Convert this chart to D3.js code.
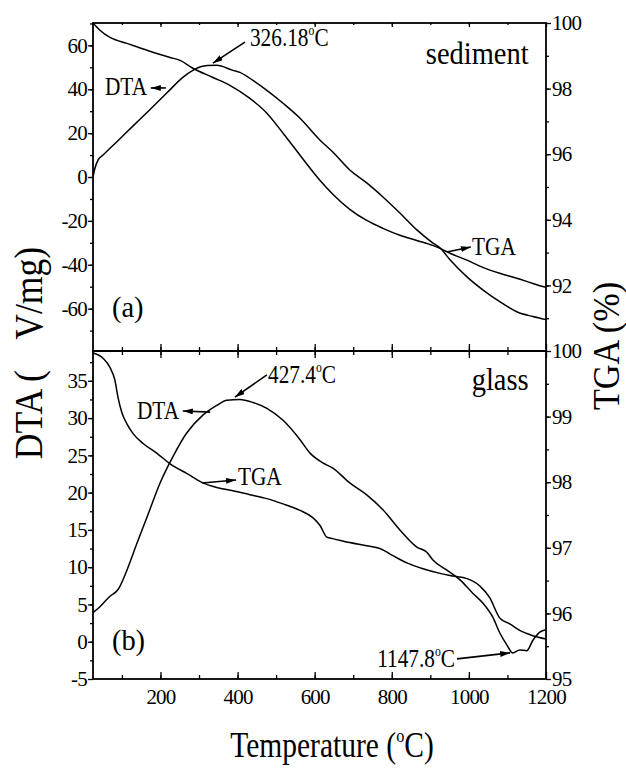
<!DOCTYPE html>
<html>
<head>
<meta charset="utf-8">
<script src="https://cdn.jsdelivr.net/npm/d3@7"></script>
<style>
body{margin:0;background:#fff;}
text{font-family:"Liberation Serif","Times New Roman",serif;fill:#000;}
</style>
</head>
<body>
<div id="chart"></div>
<script>
// (a) sediment - DTA (uV/mg) and TGA (%) vs temperature (C)
var tSedDTA = [25,30,38,51,87,129,173,217,258,284,321,346,388,406,440,476,518,562,614,647,691,735,777,821,865,906,925,951,995,1036,1080,1124,1166,1200];
var sedDTA  = [0,4,7.7,10,16.1,23.3,30.8,38.4,45.4,48.6,50.8,50.9,48.6,47.7,44,39.5,33.6,26.8,16.8,11.4,3.2,-2.7,-9.1,-16.4,-24.1,-30,-32.3,-37.7,-45.5,-51.4,-56.8,-61.4,-63.6,-65];
var tSedTGA = [25,43,69,113,165,225,251,284,336,380,432,476,518,562,614,647,691,735,777,821,865,906,925,951,995,1036,1080,1124,1166,1200];
var sedTGA  = [100,99.78,99.56,99.38,99.17,98.95,98.86,98.62,98.34,98.1,97.7,97.25,96.64,95.97,95.2,94.78,94.32,93.98,93.74,93.53,93.37,93.22,93.13,92.98,92.77,92.55,92.37,92.22,92.06,91.94];

// (b) glass
var tGlaDTA = [25,43,69,90,113,139,165,199,232,268,310,346,372,406,440,476,518,562,588,621,647,691,735,777,821,865,891,906,943,977,1010,1036,1062,1080,1098,1114,1132,1150,1166,1184,1200];
var glaDTA  = [3.9,4.7,6.1,7.0,9.6,13.2,16.7,21.3,24.8,28.0,30.4,31.7,32.4,32.5,32.1,31.3,29.7,27.1,25.3,24.0,23.3,21.3,19.7,17.7,15.0,12.7,12.0,11.0,9.6,8.3,6.5,5.2,3.3,1.2,-0.4,-1.5,-1.1,-1.2,0.2,1.3,1.6];
var tGlaTGA = [25,51,69,82,90,100,113,129,155,191,225,269,310,346,388,432,476,518,562,595,614,632,647,691,735,769,803,839,881,925,958,995,1028,1054,1080,1106,1132,1166,1200];
var glaTGA  = [99.97,99.89,99.75,99.55,99.29,99.06,98.89,98.74,98.59,98.44,98.28,98.13,97.99,97.92,97.87,97.81,97.75,97.67,97.57,97.46,97.34,97.16,97.14,97.08,97.03,96.99,96.88,96.77,96.68,96.61,96.57,96.53,96.42,96.24,95.93,95.84,95.74,95.66,95.61];

// ticks
var tempTicks = [200,400,600,800,1000,1200];
var sedDtaTicks = [-60,-40,-20,0,20,40,60];
var sedTgaTicks = [92,94,96,98,100];
var glaDtaTicks = [-5,0,5,10,15,20,25,30,35];
var glaTgaTicks = [95,96,97,98,99,100];

var width = 626, height = 769;
var plotL = 93, plotR = 546, plotT = 23, plotM = 351, plotB = 679;

var svg = d3.select("#chart").append("svg")
    .attr("width", width)
    .attr("height", height);

var x = d3.scaleLinear().domain([25,1200]).range([plotL,plotR]);
var yA  = d3.scaleLinear().domain([-79.3,70.2]).range([plotM,plotT]);   // sediment DTA
var yA2 = d3.scaleLinear().domain([90,100]).range([plotM,plotT]);       // sediment TGA
var yB  = d3.scaleLinear().domain([-5,39]).range([plotB,plotM]);        // glass DTA
var yB2 = d3.scaleLinear().domain([95,100]).range([plotB,plotM]);       // glass TGA

// arrow head
svg.append("defs").append("marker")
    .attr("id","head")
    .attr("viewBox","0 0 10 6")
    .attr("refX",10).attr("refY",3)
    .attr("markerWidth",10).attr("markerHeight",6)
    .attr("markerUnits","userSpaceOnUse")
    .attr("orient","auto")
  .append("path")
    .attr("d","M0,0L10,3L0,6z")
    .attr("fill","#000");

function axis(gen, tx, ty){
    var g = svg.append("g")
        .attr("transform","translate("+tx+","+ty+")")
        .call(gen);
    g.select(".domain").remove();
    g.attr("font-size",21).attr("font-family",null);
    g.selectAll("line").attr("stroke","#000").attr("stroke-width",1.3);
    g.selectAll("text").attr("letter-spacing","-0.8px");
    return g;
}
var none = function(){ return ""; };
var plain = function(d){ return String(d); };

// x ticks: inward on every horizontal frame line
axis(d3.axisTop(x).tickValues(tempTicks).tickSizeInner(-4).tickSizeOuter(0).tickFormat(none), 0, plotT);
axis(d3.axisTop(x).tickValues(d3.range(100,1200,100)).tickSizeInner(-2).tickSizeOuter(0).tickFormat(none), 0, plotT);
axis(d3.axisBottom(x).tickValues(tempTicks).tickSizeInner(-7).tickSizeOuter(0).tickFormat(none), 0, plotM);
axis(d3.axisBottom(x).tickValues(d3.range(100,1200,100)).tickSizeInner(-4).tickSizeOuter(0).tickFormat(none), 0, plotM);
axis(d3.axisTop(x).tickValues(tempTicks).tickSizeInner(-7).tickSizeOuter(0).tickFormat(none), 0, plotM);
axis(d3.axisTop(x).tickValues(d3.range(100,1200,100)).tickSizeInner(-4).tickSizeOuter(0).tickFormat(none), 0, plotM);
axis(d3.axisBottom(x).tickValues(tempTicks).tickSizeInner(-7).tickSizeOuter(0).tickPadding(10).tickFormat(plain), 0, plotB);
axis(d3.axisBottom(x).tickValues(d3.range(100,1200,100)).tickSizeInner(-4).tickSizeOuter(0).tickFormat(none), 0, plotB);

// y ticks: outward
axis(d3.axisLeft(yA).tickValues(sedDtaTicks).tickSize(5).tickPadding(1).tickFormat(plain), plotL, 0);
axis(d3.axisLeft(yA).tickValues(d3.range(-70,71,10)).tickSize(3).tickFormat(none), plotL, 0);
axis(d3.axisRight(yA2).tickValues(sedTgaTicks).tickSize(5).tickPadding(1).tickFormat(plain), plotR, 0);
axis(d3.axisRight(yA2).tickValues(d3.range(91,100,1)).tickSize(3).tickFormat(none), plotR, 0);
axis(d3.axisLeft(yB).tickValues(glaDtaTicks).tickSize(5).tickPadding(1).tickFormat(plain), plotL, 0);
axis(d3.axisLeft(yB).tickValues(d3.range(-2.5,38,2.5)).tickSize(3).tickFormat(none), plotL, 0);
axis(d3.axisRight(yB2).tickValues(glaTgaTicks).tickSize(5).tickPadding(1).tickFormat(plain), plotR, 0);
axis(d3.axisRight(yB2).tickValues(d3.range(95.5,100,0.5)).tickSize(3).tickFormat(none), plotR, 0);

// frames
[[plotT,plotM],[plotM,plotB]].forEach(function(p){
    svg.append("rect")
        .attr("x",plotL).attr("y",p[0])
        .attr("width",plotR-plotL).attr("height",p[1]-p[0])
        .attr("fill","none").attr("stroke","#000").attr("stroke-width",1.8);
});

// curves
function curve(ts, vs, y){
    var line = d3.line()
        .x(function(d){ return x(d[0]); })
        .y(function(d){ return y(d[1]); })
        .curve(d3.curveMonotoneX);
    svg.append("path")
        .datum(d3.zip(ts, vs))
        .attr("d", line)
        .attr("fill","none")
        .attr("stroke","#000")
        .attr("stroke-width",1.5);
}
curve(tSedDTA, sedDTA, yA);
curve(tSedTGA, sedTGA, yA2);
curve(tGlaDTA, glaDTA, yB);
curve(tGlaTGA, glaTGA, yB2);

// text helper, narrow like the original Times, "°" -> raised small o
function label(px, py, size, sx, anchor, str, rot){
    var tr = "translate("+px+","+py+")" + (rot ? " rotate("+rot+")" : "") + " scale("+sx+",1)";
    var t = svg.append("text")
        .attr("transform", tr)
        .attr("font-size", size)
        .attr("text-anchor", anchor);
    var bits = str.split("°");
    t.append("tspan").text(bits[0]);
    if(bits.length>1){
        t.append("tspan").attr("font-size",size*0.55).attr("dy",-size*0.42).text("o");
        t.append("tspan").attr("dy",size*0.42).text(bits[1]);
    }
    return t;
}
function arrow(y, t1, v1, t2, v2){
    svg.append("line")
        .attr("x1",x(t1)).attr("y1",y(v1))
        .attr("x2",x(t2)).attr("y2",y(v2))
        .attr("stroke","#000").attr("stroke-width",1.6)
        .attr("marker-end","url(#head)");
}

// annotations (a)
label(x(432), yA(59.7), 26, 0.82, "start", "326.18°C");
arrow(yA, 419, 61.5, 336, 51.9);
label(x(56), yA(37.4), 26, 0.82, "start", "DTA");
arrow(yA, 214, 40.6, 175, 40.6);
label(x(1008), yA(-35.5), 26, 0.82, "start", "TGA");
arrow(yA, 943, -34.2, 1005, -31.9);
label(x(1155), yA(51.5), 32, 0.89, "end", "sediment");
label(x(74), yA(-63.8), 30, 0.95, "start", "(a)");

// annotations (b)
label(x(479), yB(34.7), 26, 0.82, "start", "427.4°C");
arrow(yB, 476, 35.8, 393, 32.8);
label(x(139), yB(29.9), 26, 0.82, "start", "DTA");
arrow(yB, 329, 30.8, 258, 30.95);
label(x(401), yB(21.0), 26, 0.82, "start", "TGA");
arrow(yB, 308, 21.3, 396, 21.7);
label(x(1155), yB(33.8), 32, 0.89, "end", "glass");
label(x(74), yB(-1.1), 30, 0.95, "start", "(b)");
label(x(762), yB(-3.4), 26, 0.82, "start", "1147.8°C");
arrow(yB, 969, -2.3, 1107, -1.5);

// axis titles
var dtaTitle = label(42, 353, 40, 0.89, "middle", "DTA (", -90);
dtaTitle.append("tspan").attr("dx",34).text("V/mg)");
label(619, 346, 38, 0.9, "middle", "TGA (%)", -90);
label(332, 757, 36, 0.82, "middle", "Temperature (°C)");
</script>
</body>
</html>
